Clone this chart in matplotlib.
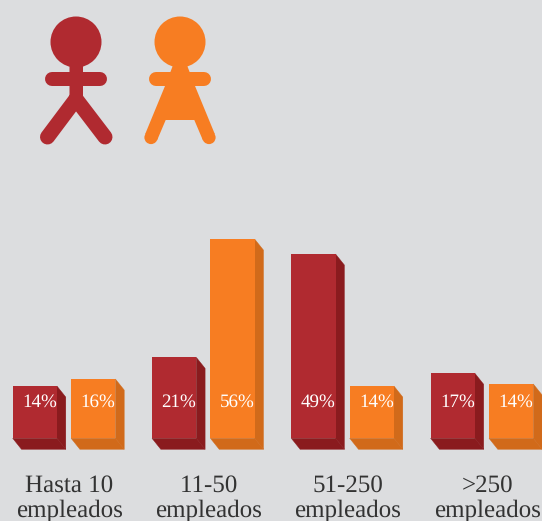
import matplotlib
matplotlib.use("Agg")
import matplotlib.pyplot as plt
from matplotlib.patches import Circle, Polygon
from matplotlib.lines import Line2D

plt.rcParams["text.hinting"] = "no_hinting"
plt.rcParams["text.hinting_factor"] = 1
plt.rcParams["text.kerning_factor"] = 6

categories = ["Hasta 10\nempleados", "11-50\nempleados", "51-250\nempleados", ">250\nempleados"]
men_heights = [14.7, 22.8, 51.9, 18.3]
women_heights = [16.7, 56.1, 14.7, 15.3]
men_labels = ["14%", "21%", "49%", "17%"]
women_labels = ["16%", "56%", "14%", "14%"]

BG = "#DCDDDF"
RED, RED_D = "#B02A30", "#8A1B1E"
ORG, ORG_D = "#F77D22", "#D16A1A"
FONT = "Liberation Serif"
W, H = 542, 521

# Layout, in pixels
GROUP0, PITCH, BAR_W, ORG_OFF = 12.7, 139.3, 44.3, 58.4
BASE, PX_PER = 438.3, 3.55
DX, DY = 8.8, 11.0

fig = plt.figure(figsize=(W / 100, H / 100), dpi=100, facecolor=BG)
ax = fig.add_axes([0, 0, 1, 1], facecolor=BG)
ax.set_xlim(-GROUP0 / PITCH, (W - GROUP0) / PITCH)
ax.set_ylim((BASE - H) / PX_PER, BASE / PX_PER)
ax.axis("off")

bw = BAR_W / PITCH
off = ORG_OFF / PITCH
dx = DX / PITCH
dy = DY / PX_PER


def bar3d(x, v, front, dark, label):
    ax.add_patch(Polygon([(x + bw, v), (x + bw + dx, v - dy), (x + bw + dx, -dy), (x + bw, 0)],
                         closed=True, fc=dark, ec=dark, lw=0.3, clip_on=False))
    ax.add_patch(Polygon([(x, 0), (x + bw, 0), (x + bw + dx, -dy), (x + dx, -dy)],
                         closed=True, fc=dark, ec=dark, lw=0.3, clip_on=False))
    ax.bar(x, v, width=bw, align="edge", color=front, linewidth=0, zorder=3)
    ax.text(x + bw / 2 + 4.6 / PITCH, 36 / PX_PER, label, color="white", ha="center", va="center",
            fontsize=13.8, family=FONT, zorder=4)


for i, cat in enumerate(categories):
    bar3d(i, men_heights[i], RED, RED_D, men_labels[i])
    bar3d(i + off, women_heights[i], ORG, ORG_D, women_labels[i])
    cx = i + (ORG_OFF + BAR_W + DX + 1.5) / 2 / PITCH
    for j, line in enumerate(cat.split("\n")):
        ax.text(cx, (BASE - 491.5 - j * 24.7) / PX_PER, line, ha="center", va="baseline",
                fontsize=18.2, family=FONT, color="#333333")

# Pictograms, in pixel coordinates
icons = fig.add_axes([0, 0, 1, 1], facecolor="none")
icons.set_xlim(0, W)
icons.set_ylim(H, 0)
icons.axis("off")


def stroke(xs, ys, c, wpx):
    icons.add_line(Line2D(xs, ys, color=c, lw=wpx * 0.72, solid_capstyle="round"))


# Man
icons.add_patch(Circle((76, 42), 25.5, fc=RED, ec="none"))
icons.add_patch(Polygon([(69.5, 60), (83, 60), (83, 96), (76, 104), (69.5, 96)], fc=RED, ec="none"))
stroke([52, 100], [79, 79], RED, 14)
stroke([47.5, 76], [137, 99], RED, 15)
stroke([105, 76], [137, 99], RED, 15)

# Woman
icons.add_patch(Circle((180, 42), 25.5, fc=ORG, ec="none"))
stroke([156, 204], [79, 79], ORG, 14)
icons.add_patch(Polygon([(172.7, 66), (187.3, 66), (195, 86), (214.8, 134), (203, 140.5), (194.3, 120),
                         (165.7, 120), (157, 140.5), (145.2, 134), (165, 86)], fc=ORG, ec="none"))
icons.add_patch(Circle((151, 137.5), 6.6, fc=ORG, ec="none"))
icons.add_patch(Circle((209, 137.5), 6.6, fc=ORG, ec="none"))

fig.savefig("out.png", dpi=100, facecolor=BG)
